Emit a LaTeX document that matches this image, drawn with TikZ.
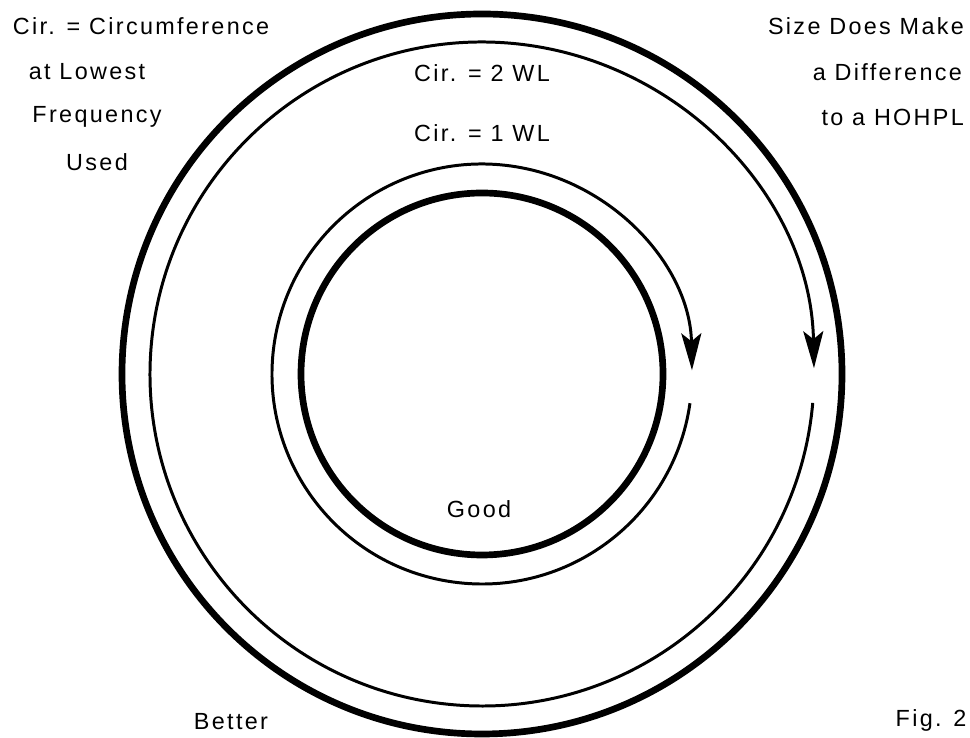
\documentclass[tikz,border=0pt]{standalone}
\usepackage{fontspec}
\newfontfamily\figfont[LetterSpace=10]{Liberation Sans}
\usetikzlibrary{arrows.meta}

\begin{document}
\begin{tikzpicture}[
    every node/.style={font=\figfont\fontsize{13.3}{15}\selectfont,inner sep=1pt},
    ring/.style      ={draw,line width=3.8pt},
    wave/.style      ={draw,line width=1.7pt,
                      -{Stealth[length=7.4mm,width=4mm,inset=1.6mm]}},
  ]
  \useasboundingbox (0,0) rectangle (19.4,14.76);
  \coordinate (c) at (9.64,7.28);

  % --- loops ---
  \draw[ring] (c) circle[radius=7.2];
  \draw[ring] (c) circle[radius=3.62];
  \draw[wave] ([shift={(-5:6.64)}]c) arc[start angle=-5,end angle=-359,radius=6.64];
  \draw[wave] ([shift={(-8:4.2)}]c) arc[start angle=-8,end angle=-359,radius=4.2];

  % --- labels ---
  \node (two) at (9.64,13.30) {Cir. = 2 WL};
  \node (one) at (9.64,12.10) {Cir. = 1 WL};
  \node (good)   at (9.58,4.58) {Good};
  \node (better) at (4.62,0.32) {Better};
  \node (fig)    at (18.62,0.36) {Fig. 2};

  % --- notes in the corners ---
  \node (n1) at (2.82,14.24) {Cir. = Circumference};
  \node (n2) at (1.74,13.32) {at Lowest};
  \node (n3) at (1.94,12.42) {Frequency};
  \node (n4) at (1.94,11.52) {Used};
  \node[anchor=east] (s1) at (19.32,14.24) {Size Does Make};
  \node[anchor=east] (s2) at (19.28,13.32) {a Difference};
  \node[anchor=east] (s3) at (19.32,12.42) {to a HOHPL};
\end{tikzpicture}
\end{document}
